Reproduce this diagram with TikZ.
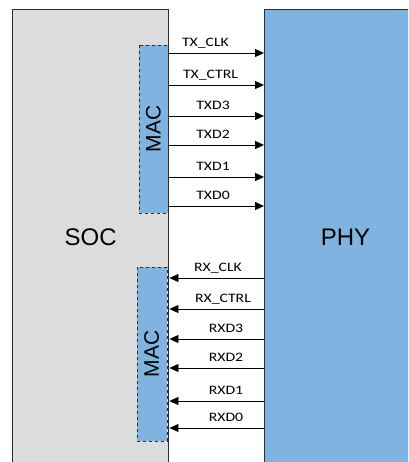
\documentclass[tikz,border=0pt]{standalone}
\usepackage{fontspec}
\setmainfont{Liberation Sans}
\newfontfamily\sigfont[FakeStretch=1.22]{Carlito}
\usetikzlibrary{arrows.meta,positioning}
\definecolor{socgray}{RGB}{220,220,220}
\definecolor{phyblue}{RGB}{128,179,224}
\definecolor{edgegray}{RGB}{45,45,45}

\begin{document}
\begin{tikzpicture}[
    x=1pt, y=-1pt,
    block/.style={draw=edgegray, line width=1pt, anchor=north west, inner sep=0pt, font=\fontsize{24}{28}\selectfont},
    soc_block/.style={block, fill=socgray, line width=1.4pt},
    phy_block/.style={block, fill=phyblue},
    mac_block/.style={draw=edgegray, dashed, fill=phyblue, rotate=90, inner sep=0pt, font=\fontsize{21}{24}\selectfont},
    signal/.style={-{Triangle[length=9pt,width=8pt]}, line width=0.8pt},
    sig_label/.style={font=\sigfont\fontsize{12.9}{14}\selectfont, inner sep=0pt, anchor=base}
]
\useasboundingbox (0,0) rectangle (408,462);
\clip (0,0) rectangle (408,462);

\node[soc_block, minimum width=156pt, minimum height=456pt] (soc) at (12,9) {SOC};
\node[phy_block, minimum width=162pt, minimum height=456pt] (phy) at (264,9) {PHY};

\node[mac_block, minimum width=168pt, minimum height=29pt] (mac_tx) at (153.5,129) {MAC};
\node[mac_block, minimum width=174pt, minimum height=30pt] (mac_rx) at (151.7,354) {MAC};

% transmit side
\foreach \yy/\lbl/\lx [count=\i] in {53/TX\_CLK/205.5, 85/TX\_CTRL/210.5, 116/TXD3/213,
                                     145/TXD2/213, 177/TXD1/213, 206/TXD0/213} {
  \coordinate (tx_\i) at (0,\yy);
  \draw[signal] (soc.east |- tx_\i) -- (phy.west |- tx_\i);
  \node[sig_label] (tx_lbl_\i) at (\lx,\yy-6) {\lbl};
}

% receive side
\foreach \yy/\lbl/\lx [count=\i] in {278/RX\_CLK/218, 309/RX\_CTRL/223, 339/RXD3/226,
                                     368/RXD2/226, 401/RXD1/226, 428/RXD0/226} {
  \coordinate (rx_\i) at (0,\yy);
  \draw[signal] (phy.west |- rx_\i) -- (soc.east |- rx_\i);
  \node[sig_label] (rx_lbl_\i) at (\lx,\yy-7) {\lbl};
}

\end{tikzpicture}
\end{document}
